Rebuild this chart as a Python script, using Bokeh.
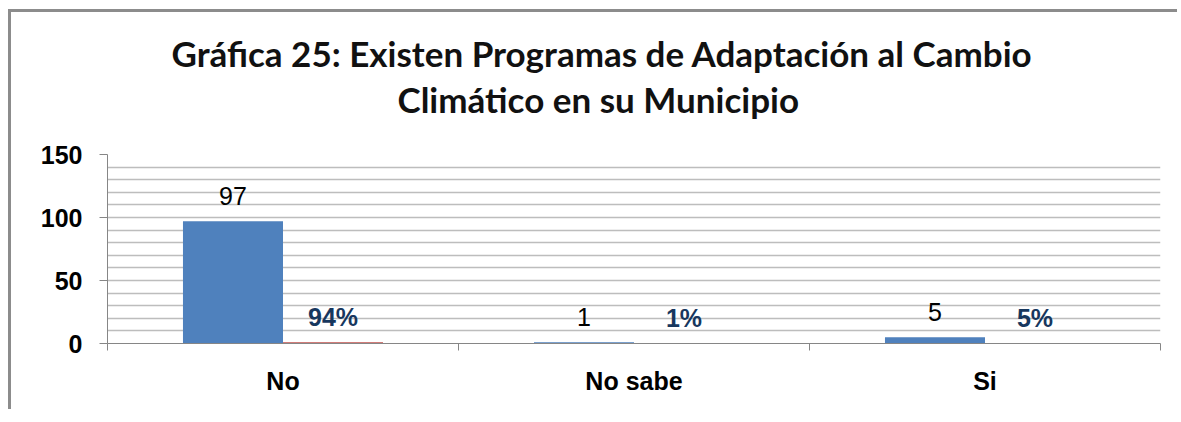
from bokeh.plotting import figure
from bokeh.models import (Range1d, FixedTicker, LinearAxis, Title, ColumnDataSource)
from bokeh.core.properties import value
from bokeh.embed import file_html
from bokeh.resources import INLINE

# ---- data ----
categories = ["No", "No sabe", "Si"]
counts = [97, 1, 5]
shares = [0.94, 0.01, 0.05]
pct_labels = ["94%", "1%", "5%"]
y_ticks = [0, 50, 100, 150]
title_lines = ["Gráfica 25: Existen Programas de Adaptación al Cambio",
               "Climático en su Municipio"]

# ---- styles ----
BLUE = "#4F81BD"
RED = "#C0504D"
NAVY = "#17375E"
AXIS_GRAY = "#868686"
GRID_GRAY = "#BDBDBD"
BAR_W = 0.285
FONT = "Liberation Sans"

n = len(categories)
centers = [i + 0.5 for i in range(n)]          # category slot centres on a 0..n axis
src = ColumnDataSource(dict(
    xc=[c - BAR_W / 2 for c in centers],
    xp=[c + BAR_W / 2 for c in centers],
    counts=counts,
    shares=shares,
    count_txt=[str(c) for c in counts],
    pct_txt=pct_labels,
))

p = figure(width=1169, height=400,
           x_range=Range1d(0, n),
           y_range=Range1d(0, 150),
           x_axis_location=None, title_location=None,
           output_backend="svg", toolbar_location=None,
           min_border_left=96, min_border_right=20,
           min_border_top=142, min_border_bottom=69)
p.styles = {"margin-left": "8px", "margin-top": "9px",
            "border-top": "3px solid #8C8C8C", "border-left": "3px solid #8C8C8C"}

p.outline_line_color = None
p.background_fill_color = "white"
p.border_fill_color = "white"

# bars
p.vbar(x="xc", top="counts", width=BAR_W, bottom=0, source=src,
       fill_color=BLUE, line_color=None)
p.vbar(x="xp", top="shares", width=BAR_W, bottom=0, source=src,
       fill_color=RED, line_color=None)

# data labels
p.text(x="xc", y="counts", text="count_txt",
       source=src, y_offset=-25, text_align="center", text_baseline="alphabetic",
       text_font=value(FONT), text_font_size="25px", text_color="black")
p.text(x="xp", y="shares", text="pct_txt",
       source=src, y_offset=-25, text_align="center", text_baseline="alphabetic",
       text_font=value(FONT), text_font_size="25px", text_font_style="bold",
       text_color=NAVY)

# y axis
ya = p.yaxis[0]
ya.ticker = FixedTicker(ticks=y_ticks)
ya.axis_line_color = AXIS_GRAY
ya.major_tick_line_color = AXIS_GRAY
ya.major_tick_out = 8
ya.major_tick_in = 0
ya.minor_tick_line_color = None
ya.major_label_text_font = FONT
ya.major_label_text_font_size = "25px"
ya.major_label_text_font_style = "bold"
ya.major_label_text_color = "black"
ya.major_label_standoff = 17

# grid
p.xgrid.visible = False
p.ygrid.ticker = FixedTicker(ticks=list(range(10, 151, 10)))
p.ygrid.grid_line_color = GRID_GRAY
p.ygrid.grid_line_width = 1.5

# x axis: boundary ticks + category labels
bounds = list(range(n + 1))
tick_axis = LinearAxis(ticker=FixedTicker(ticks=bounds),
                       major_label_overrides={b: "" for b in bounds},
                       axis_line_color=AXIS_GRAY, major_tick_line_color=AXIS_GRAY,
                       major_tick_out=7, major_tick_in=0, minor_tick_line_color=None,
                       major_label_standoff=0)
p.add_layout(tick_axis, "below")

label_axis = LinearAxis(ticker=FixedTicker(ticks=centers),
                        major_label_overrides={c: lab for c, lab in zip(centers, categories)},
                        axis_line_color=None, major_tick_line_color=None,
                        minor_tick_line_color=None,
                        major_label_text_font=FONT,
                        major_label_text_font_size="25px",
                        major_label_text_font_style="bold",
                        major_label_text_color="black",
                        major_label_standoff=10)
p.add_layout(label_axis, "below")

# invisible spacer between plot area and title block
spacer = LinearAxis(ticker=FixedTicker(ticks=[0]), major_label_overrides={0: ""},
                    axis_line_color=None, major_tick_line_color=None,
                    minor_tick_line_color=None,
                    major_tick_out=33, major_tick_in=0, minor_tick_out=0,
                    major_label_standoff=0)
p.add_layout(spacer, "above")

# title (two lines)
p.add_layout(Title(text=title_lines[1], align="left", text_font="Lato",
                   text_font_size="35px", text_font_style="bold", text_color="#111111",
                   standoff=4, offset=290), "above")
p.add_layout(Title(text=title_lines[0], align="left", text_font="Lato",
                   text_font_size="35px", text_font_style="bold", text_color="#111111",
                   standoff=0, offset=64), "above")

open("out.html", "w").write(file_html(p, INLINE))
